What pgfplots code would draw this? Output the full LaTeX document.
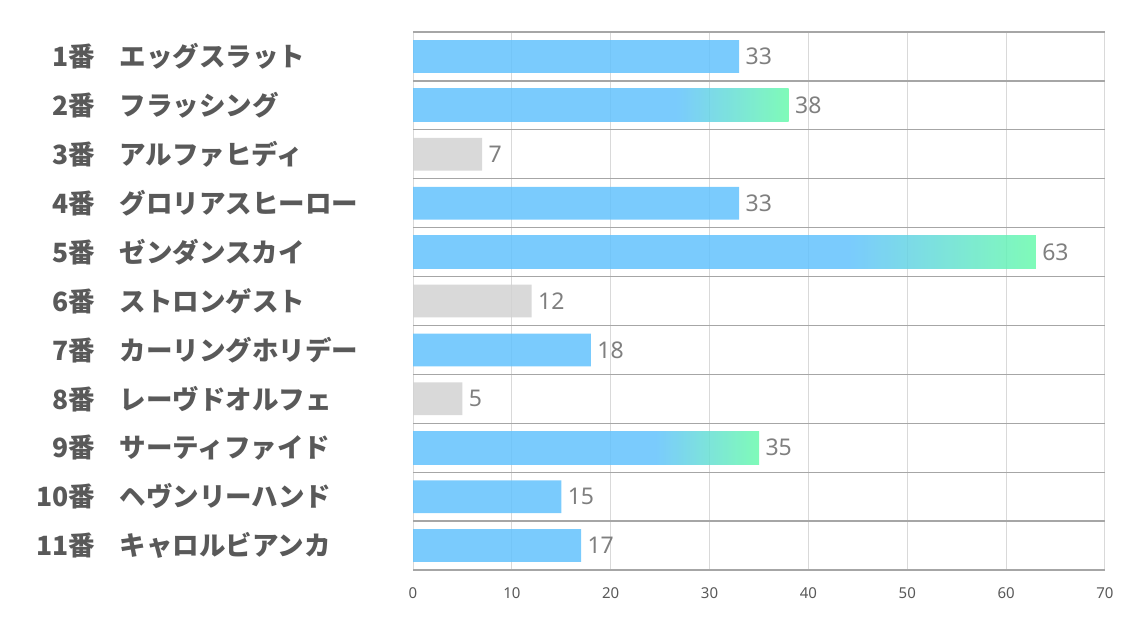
\documentclass[border=0pt]{standalone}
\usepackage{fontspec}
\usepackage{pgfplots}
\pgfplotsset{compat=1.18}
\setmainfont{Noto Sans}
\newfontfamily\jp{Noto Sans CJK JP}
\definecolor{barblue}{RGB}{99,194,253}
\definecolor{bargreen}{RGB}{104,250,172}
\definecolor{bargray}{RGB}{210,210,210}
\definecolor{gridlight}{RGB}{217,217,217}
\definecolor{gridmid}{RGB}{166,166,166}
\definecolor{ticktext}{RGB}{89,89,89}
\definecolor{labtext}{RGB}{89,89,89}
\definecolor{valtext}{RGB}{127,127,127}
\pgfdeclarehorizontalshading{barshade}{100bp}{color(0bp)=(barblue); color(60bp)=(barblue); color(75bp)=(bargreen); color(100bp)=(bargreen)}
\newcommand{\lab}[2]{\makebox[54bp][r]{#1番}\hspace{24.5bp}#2}
\begin{document}
\begin{tikzpicture}
\useasboundingbox (0,0) rectangle (1134bp,623bp);
\begin{axis}[
  at={(413bp,53bp)}, anchor=south west,
  width=692bp, height=538bp, scale only axis,
  xmin=0, xmax=70, ymin=-0.5, ymax=10.5,
  xtick={0,10,...,70}, ytick={0,...,10},
  yticklabels={\lab{11}{キャロルビアンカ},\lab{10}{ヘヴンリーハンド},\lab{9}{サーティファイド},\lab{8}{レーヴドオルフェ},\lab{7}{カーリングホリデー},\lab{6}{ストロンゲスト},\lab{5}{ゼンダンスカイ},\lab{4}{グロリアスヒーロー},\lab{3}{アルファヒディ},\lab{2}{フラッシング},\lab{1}{エッグスラット}},
  minor ytick={-0.5,0.5,...,10.5},
  xmajorgrids, yminorgrids,
  major grid style={draw=gridlight, line width=1bp},
  minor grid style={draw=gridmid, line width=1.3bp},
  axis line style={draw=none},
  major tick length=0pt, minor tick length=0pt,
  /pgf/number format/assume math mode=true,
  xticklabel style={font=\fontsize{15bp}{18bp}\selectfont, text=ticktext, yshift=-14bp},
  yticklabel style={font=\jp\bfseries\fontsize{26.5bp}{30bp}\selectfont, text=labtext, anchor=west, inner sep=0pt, xshift=-372bp},
  xbar, bar width=0.67, /pgf/bar shift=0pt,
  nodes near coords,
  nodes near coords style={font=\fontsize{23bp}{27bp}\selectfont, text=valtext, anchor=west, xshift=3bp, text opacity=1, fill opacity=1},
]
\addplot[xbar, draw=none, fill=barblue, fill opacity=0.85] coordinates {(33,10) (33,7) (18,4) (15,1) (17,0)};
\addplot[xbar, draw=none, fill opacity=0.85, shade, shading=barshade] coordinates {(38,9)};
\addplot[xbar, draw=none, fill opacity=0.85, shade, shading=barshade] coordinates {(63,6)};
\addplot[xbar, draw=none, fill opacity=0.85, shade, shading=barshade] coordinates {(35,2)};
\addplot[xbar, draw=none, fill=bargray, fill opacity=0.85] coordinates {(7,8) (12,5) (5,3)};
\end{axis}
\end{tikzpicture}
\end{document}
